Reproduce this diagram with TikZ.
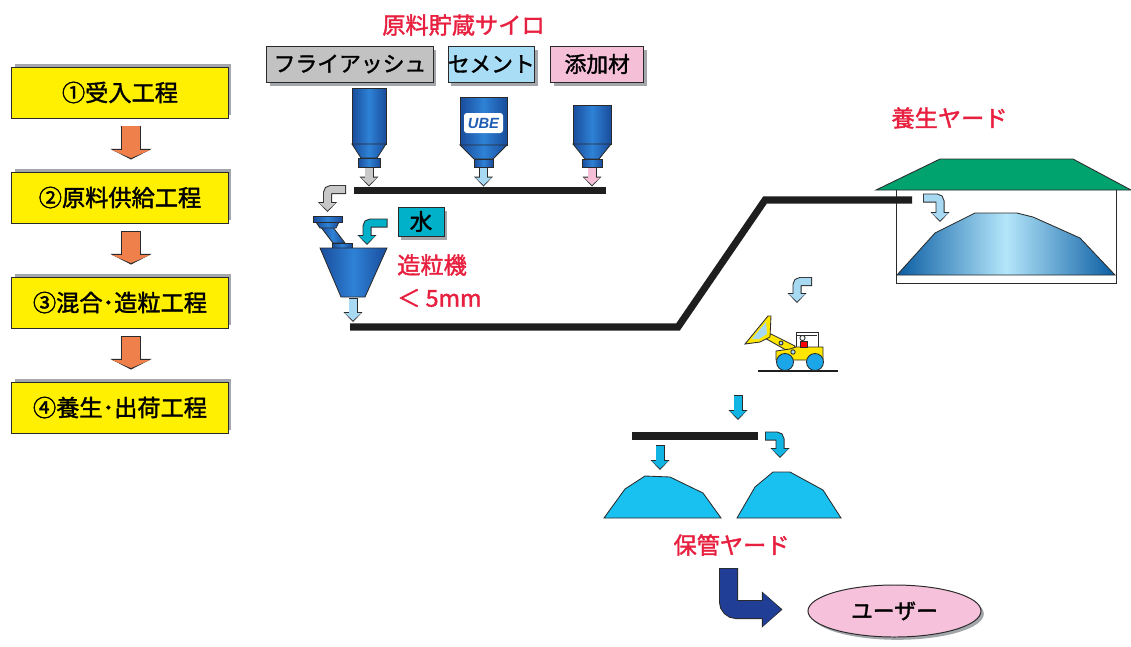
\documentclass[tikz,border=0pt]{standalone}
\usepackage{fontspec}
\setmainfont{Noto Sans CJK JP}[FakeBold=1.6]
\newfontfamily\logofont{Liberation Sans}
\usepackage{tikz}
\usetikzlibrary{arrows.meta,positioning,calc,shadows,shapes.geometric}

\definecolor{stepYellow}{HTML}{FFEF00}
\definecolor{stepOrange}{HTML}{F0804B}
\definecolor{shadowGray}{HTML}{A3A7AC}
\definecolor{rimGray}{HTML}{2A2A2A}
\definecolor{labelRed}{HTML}{E8203F}
\definecolor{ashGray}{HTML}{C2C2C2}
\definecolor{cementBlue}{HTML}{A9DDF6}
\definecolor{additivePink}{HTML}{F5BFD8}
\definecolor{waterTeal}{HTML}{00B1C9}
\definecolor{siloDark}{HTML}{1A4C9C}
\definecolor{siloLight}{HTML}{2E82D6}
\definecolor{logoBlue}{HTML}{1C5DB4}
\definecolor{chuteGray}{HTML}{C8C8C8}
\definecolor{chuteBlue}{HTML}{A7D9F2}
\definecolor{chuteCyan}{HTML}{12B4E4}
\definecolor{pileCyan}{HTML}{18C1F0}
\definecolor{roofGreen}{HTML}{00A36E}
\definecolor{heapDark}{HTML}{0A5DA3}
\definecolor{heapLight}{HTML}{B4E6FA}
\definecolor{loaderYellow}{HTML}{FFE600}
\definecolor{wheelBlue}{HTML}{1AA6E8}
\definecolor{shipBlue}{HTML}{213E97}
\definecolor{userPink}{HTML}{F6C1DA}
\definecolor{beltBlack}{HTML}{1E1E1E}

\tikzset{
  chute rim/.style={draw=rimGray, line width=6.4pt, rounded corners=0.09cm,
    -{Triangle[length=7.1pt, width=13.5pt, line width=0pt]}},
  chute body/.style={line width=5pt, rounded corners=0.09cm, shorten <=0.7pt, shorten >=1.05pt,
    -{Triangle[length=5.3pt, width=11.4pt, line width=0pt]}},
  step rim/.style={draw=rimGray, line width=14.2pt,
    -{Triangle[length=7.5pt, width=29.2pt, line width=0pt]}},
  step body/.style={line width=12.8pt, shorten <=0.7pt, shorten >=1.05pt,
    -{Triangle[length=5.7pt, width=27pt, line width=0pt]}},
  ship rim/.style={draw=rimGray, line width=13.5pt, rounded corners=0.2cm,
    -{Triangle[length=14.6pt, width=25.6pt, line width=0pt]}},
  ship body/.style={line width=12.1pt, rounded corners=0.2cm, shorten <=0.7pt, shorten >=1.05pt,
    -{Triangle[length=12.8pt, width=23.5pt, line width=0pt]}},
}

% outlined block arrow: dark rim underneath, coloured body on top
\newcommand{\flowarrow}[3]{%
  \draw[#1 rim] #3;
  \draw[#1 body, draw=#2] #3;}

\begin{document}
\begin{tikzpicture}[
    x=0.025cm, y=-0.025cm,
    stepbox/.style={rectangle, draw=rimGray, line width=0.7pt, fill=stepYellow,
      minimum width=5.4cm, minimum height=1.275cm, inner sep=0pt,
      font=\fontsize{16.5}{18}\selectfont,
      drop shadow={shadow xshift=0.075cm, shadow yshift=0.075cm, fill=shadowGray, opacity=1}},
    matbox/.style={rectangle, draw=rimGray, line width=0.7pt, minimum height=0.9cm, inner sep=0pt,
      font=\fontsize{15.5}{17}\selectfont,
      drop shadow={shadow xshift=0.085cm, shadow yshift=-0.1cm, fill=shadowGray, opacity=1}},
    redlabel/.style={text=labelRed, inner sep=0pt, font=\fontsize{16.5}{18}\selectfont},
    belt/.style={line width=5pt, draw=beltBlack},
    part/.style={draw=rimGray, line width=0.6pt},
    silo/.style={part, left color=siloDark, right color=siloDark, middle color=siloLight},
  ]
  \useasboundingbox (0,0) rectangle (1131,646);

  % process steps
  \node[stepbox] (recv) at (120,92.5) {①受入工程};
  \node[stepbox, below=1.325cm of recv] (feed) {②原料供給工程};
  \node[stepbox, below=1.325cm of feed] (mix) {③混合･造粒工程};
  \node[stepbox, below=1.325cm of mix] (ship) {④養生･出荷工程};
  \flowarrow{step}{stepOrange}{([xshift=0.275cm, yshift=-0.175cm]recv.south) -- ([xshift=0.275cm, yshift=0.3cm]feed.north)}
  \flowarrow{step}{stepOrange}{([xshift=0.275cm, yshift=-0.175cm]feed.south) -- ([xshift=0.275cm, yshift=0.3cm]mix.north)}
  \flowarrow{step}{stepOrange}{([xshift=0.275cm, yshift=-0.175cm]mix.south) -- ([xshift=0.275cm, yshift=0.3cm]ship.north)}

  % raw material silos
  \node[redlabel] (silos) at (463.5,25) {原料貯蔵サイロ};
  \node[matbox, fill=ashGray, minimum width=4.15cm] (ash) at (350,64) {フライアッシュ};
  \node[matbox, fill=cementBlue, minimum width=2.15cm, right=0.35cm of ash] (cement) {セメント};
  \node[matbox, fill=additivePink, minimum width=2.325cm, right=0.375cm of cement] (additive) {添加材};

  \draw[silo] (352,88) rectangle (386,144);
  \draw[silo] (352,144) -- (386,144) -- (377,158) -- (361,158) -- cycle;
  \draw[silo] (358,158) rectangle (380,167);
  \draw[silo] (460,97) rectangle (507,145);
  \draw[silo] (460,145) -- (507,145) -- (493,159) -- (474,159) -- cycle;
  \draw[silo] (474,159) rectangle (493,167);
  \draw[silo] (573,105) rectangle (611,144);
  \draw[silo] (573,144) -- (611,144) -- (599,159) -- (585,159) -- cycle;
  \draw[silo] (582,159) rectangle (602,167);
  \node[fill=white, rounded corners=2pt, minimum width=0.975cm, minimum height=0.5cm, inner sep=0pt,
    text=logoBlue, font={\logofont\bfseries\itshape\fontsize{10.5}{12}\selectfont}] (ube) at (483.5,123) {UBE};

  \coordinate (ashout) at (369,167.5);
  \coordinate (cemout) at (483.5,167.5);
  \coordinate (addout) at (592,167.5);

  % conveyors
  \coordinate (belt1w) at (354,190.5);
  \coordinate (belt1e) at (606,190.5);
  \coordinate (belt2w) at (350,327);
  \coordinate (belt2k) at (678,327);
  \coordinate (belt2t) at (765,200);
  \coordinate (belt2e) at (912,200);
  \draw[belt] (belt1w) -- (belt1e);

  \flowarrow{chute}{chuteGray}{(ashout) -- ($(ashout |- belt1w)+(0,-4)$)}
  \flowarrow{chute}{chuteBlue}{(cemout) -- ($(cemout |- belt1w)+(0,-4)$)}
  \flowarrow{chute}{additivePink}{(addout) -- ($(addout |- belt1w)+(0,-4)$)}

  % granulator
  \coordinate (hopper) at (327.5,216);
  \coordinate (mixer) at (367,248);
  \coordinate (granout) at (353,297);
  \draw[silo] (320,226) -- (332,226) -- (345,243) -- (333,243) -- cycle;
  \draw[silo] (316,222) -- (339,222) -- (336,228) -- (320,228) -- cycle;
  \draw[silo] (313,216) rectangle (342,222);
  \draw[silo] (332,243) rectangle (352,248);
  \draw[silo] (320,248) -- (387,248) -- (365,297) -- (341,297) -- cycle;
  \flowarrow{chute}{chuteGray}{($(belt1w)+(-8,-1)$) -| ($(hopper)+(0,-4)$)}

  \node[matbox, fill=waterTeal, minimum width=1.15cm, minimum height=0.725cm,
    font=\fontsize{16}{18}\selectfont] (water) at (421,221.5) {水};
  \flowarrow{chute}{waterTeal}{($(water.west)+(-10,1.5)$) -| ($(mixer)+(0,-3)$)}
  \node[redlabel, anchor=west] (granulator) at (397,265) {造粒機};
  \node[redlabel, anchor=west] (grain) at (397,298) {＜ 5mm};

  % curing yard
  \node[redlabel] (curing) at (949.5,118) {養生ヤード};
  \draw[part, fill=roofGreen] (876,190) -- (940,159) -- (1073,159) -- (1131,190) -- cycle;
  \draw[part] (896,190) -- (896,283) -- (1116,283) -- (1116,190);
  \draw[part, left color=heapDark, right color=heapDark, middle color=heapLight]
    (897,275) -- (935,233) -- (975,213) -- (1017,213) -- (1033,217) -- (1080,238) -- (1115,275) -- cycle;
  \draw[belt] (belt2w) -- (belt2k) -- (belt2t) -- (belt2e);
  \flowarrow{chute}{chuteBlue}{($(granout)+(0,1)$) -- ($(granout |- belt2w)+(0,-5)$)}
  \coordinate (heapdrop) at (940,222);
  \flowarrow{chute}{chuteBlue}{($(belt2e)+(11,-2)$) -| (heapdrop)}

  % wheel loader
  \coordinate (yardout) at (812,281.5);
  \coordinate (loader) at (797,310);
  \flowarrow{chute}{chuteBlue}{(yardout) -| ($(loader)+(0,-7)$)}
  \draw[beltBlack, line width=1.4pt] (758,371) -- (838,371);
  \draw[part, fill=loaderYellow] (763,337) -- (769,333) -- (795,346) -- (793,354) -- cycle;
  \draw[part, fill=loaderYellow] (745,344) -- (768,316) -- (771,316) -- (770,337) -- (760,342) -- cycle;
  \fill[chuteBlue] (752,339) -- (766,322) -- (767,334) -- (759,339) -- cycle;
  \draw[part, fill=loaderYellow] (776,360) -- (776,351) -- (790,349) -- (796,347) -- (823,347) -- (823,360) -- cycle;
  \draw[part] (796,347) -- (796,332) -- (818,332) -- (818,347);
  \draw[part] (797,335.5) -- (817,335.5);
  \draw[part, fill=red] (800,341) rectangle (807,347);
  \draw[part, fill=white] (802.5,338) circle (2.6);
  \draw[part, fill=chuteBlue] (781,343) circle (2);
  \draw[part, fill=chuteBlue] (793,352) circle (2.2);
  \draw[part, fill=wheelBlue] (785,362) circle (8.5);
  \draw[part, fill=wheelBlue] (815,362) circle (8.5);

  % storage yard
  \coordinate (loadout) at (738,395);
  \coordinate (belt3w) at (632,436);
  \coordinate (belt3e) at (758,436);
  \coordinate (pile1) at (660,474);
  \coordinate (pile2) at (780,472);
  \flowarrow{chute}{chuteCyan}{(loadout) -- ($(loadout |- belt3e)+(0,-16)$)}
  \draw[belt] (belt3w) -- (belt3e);
  \draw[part, fill=pileCyan] (604,518) -- (625,489) -- (645,476) -- (670,477) -- (703,493) -- (721,518) -- cycle;
  \draw[part, fill=pileCyan] (737,518) -- (755,487) -- (773,472) -- (790,472) -- (823,490) -- (841,518) -- cycle;
  \flowarrow{chute}{chuteCyan}{($(pile1 |- belt3w)+(0,9)$) -- ($(pile1)+(0,-4)$)}
  \flowarrow{chute}{chuteCyan}{($(belt3e)+(7,0)$) -| ($(pile2)+(0,-14)$)}
  \node[redlabel] (storage) at (731.5,545) {保管ヤード};

  % shipping
  \node[ellipse, draw=rimGray, line width=0.7pt, fill=userPink, minimum width=4.325cm, minimum height=1.3cm,
    font=\fontsize{15.5}{17}\selectfont,
    drop shadow={shadow xshift=0.07cm, shadow yshift=-0.07cm, fill=shadowGray, opacity=1}] (user) at (894.5,611) {ユーザー};
  \coordinate (shipstart) at (728.5,568);
  \flowarrow{ship}{shipBlue}{(shipstart) |- ($(user.west)+(-25,-1.5)$)}
\end{tikzpicture}
\end{document}
